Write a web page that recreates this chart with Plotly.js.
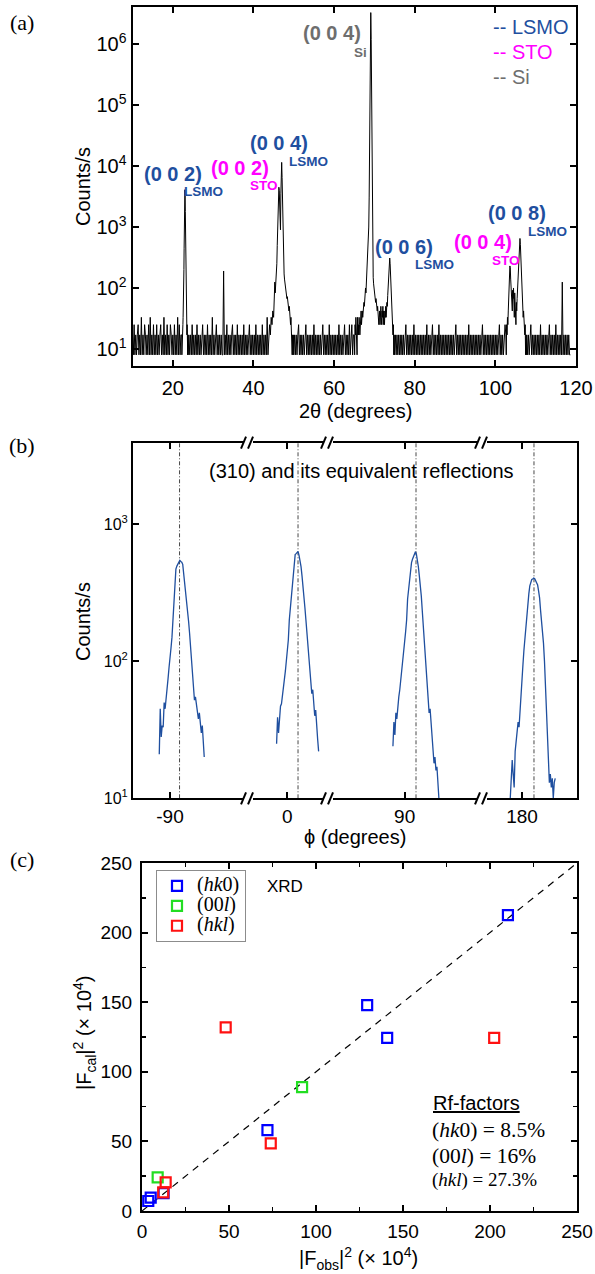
<!DOCTYPE html>
<html><head><meta charset="utf-8">
<script src="https://cdn.plot.ly/plotly-3.0.1.min.js"></script>
<style>html,body{margin:0;padding:0;background:#fff}#chart{width:595px;height:1274px}</style>
</head><body><div id="chart"></div>
<script>
// ===================== DATA =====================
// Panel (a): 2theta scan, counts/s (segments on a regular measurement grid)
const scanBg1 = [17,8,25,8,17,8,17,25,8,17, 8,33,8,17,8,25,17,8,17,8, 25,8,33,8,17,8,25,8,17,8,
  25,8,17,8,17,25,8,17,8,33, 8,17,8,25,8,17,8,25,17,8, 17,8,25,8,17,8,33,8,25,8, 17];
const scanPk002 = [17,8,17,8,25,17,25,33,42,58,100,200,450,1100,2400,3700,4100,3300,1800,800,330,150,75,50,33,25,17,25,8,17,8,17,8];
const scanBg2 = [17,8,17,8,25,8,17,8,17,8, 25,8,17,8,17,8,17,25,8,17, 8,17,8,25,8,17,8,17,8,33,
  8,17,8,17,25,8,17,8,17,8, 17,8,8,190,8,17,8,25,8,17, 8,17,8,17,25,8,17,8,17,8,
  25,8,17,8,17,8,17,8,25,8, 17,8,17,8,17,25,8,17,8,17, 8,17,8,25,8,17,8,17,8,17,
  8,25,8,17,8,17,8,33,8,17, 25,17,33,25,42];
const scanPk004 = [33,50,83,125,83,110,150,130,250,500, 1200,2200,3400,4500,4000,2200,1100,900,3500,8500,
  11500,6500,2200,800,350,200,170,140,120,100, 92,83,75,67,72,58,62,50,42,50, 33,42,25,33,17,25,8,17,8,17, 8];
const scanBg3 = [17,8,17,8,17,25,8,17,8,17, 8,17,8,17,25,8,17,8,17,8, 17,8,17,8,25,8,17,8,17,8,
  17,8,17,8,17,25,8,17,8,17, 8,17,8,25,8,17,8,17,8,17, 8,17,8,17,8,25,8,17,8,17,
  8,17,25,8,17,8,17,8,25,8, 17,25,8,17];
const scanPkSi = [17,8,25,17,33,17,25,8,33,17, 25,17,33,25,17,33,25,42,25,33, 42,33,50,42,58,50,75,67,100,83,
  117,100,150,200,300,500,1000,3000,15000,200000, 1500000,3300000,1200000,80000,5000,800,250,150,117,100,
  92,75,83,58,67,50,58,42,50,33, 42,25,33,42,25,33,50,33,25,42, 33,50,25,42,33,25,42,33,50,33,
  42,58,50,75,100,150,220,290,310,250, 160,100,67,42,33,25,17,25,8,17, 8];
const scanBg4 = [17,8,17,8,17,8,17,8,17,8, 17,8,17,25,8,17,8,17,8,17, 8,17,8,25,8,17,8,17,8,17,
  8,17,8,17,8,17,8,17,8,25, 8,17,8,17,8,17,25,8,17,8, 17,8,17,8,25,8,17,8,17,8,
  17,8,17,8,17,8,17,8,17,8, 17,8,17,8,17,25,8,17,8,17, 8,17,8,17,8,17,8,17,8,17,
  8,25,8,17,8,17,8,17,8,17, 8,17,8,17,8,17,8,17,25,8, 17,8,17,8,17,8,17,8,17,8,
  17,8,17,8,17,8,17,8,17,25, 8,17,8,17,8,17,25];
const scanPk008 = [17,8,25,17,33,25,42,58,100,160, 230,215,140,90,110,75,42,92,67,100, 50,33,83,58,42,25,58,42,67,92,
  130,200,330,480,600,650,520,330,190,110, 75,50,58,33,42,25,33,17,25,8, 17,8,17];
const scanBg5 = [8,17,8,17,25,8,17,8,17,8, 17,8,17,8,17,8,25,8,17,8, 17,8,17,8,17,8,17,25,8,17,
  8,17,8,17,8,25,8,17,8,17, 8,17,8,125,8,17,8,17,8,17, 8,17,8,8];
// [start 2theta, step, counts]
const scanSegments = [
  [10.0, 0.2, scanBg1], [22.2, 0.05, scanPk002], [24.0, 0.2, scanBg2], [45.0, 0.1, scanPk004],
  [50.2, 0.2, scanBg3], [65.0, 0.1, scanPkSi], [75.2, 0.2, scanBg4], [102.6, 0.1, scanPk008], [108.0, 0.2, scanBg5]
];

// Panel (b): phi scans of (310) reflections [start phi, step, counts]
const phiPeak1 = [21,45,28,34,33,50,45,52,64,75,90,102,125,150,205,290,390,470,495,510,530,545,535,528,510,440,375,310,265,225,195,160,130,100,78,60,52,55,48,44,38,42,33,30,34,24,20];
const phiPeak2 = [25,39,30,40,47,49,55,62,74,85,98,112,143,200,245,280,330,430,520,600,610,618,632,590,540,490,420,360,300,245,200,165,135,105,85,70,58,62,48,40,44,32,27,22];
const phiPeak3 = [24,36,29,42,38,50,55,62,75,88,100,118,140,165,200,285,340,400,450,525,555,580,610,630,605,560,490,420,360,300,235,180,140,105,80,62,50,42,45,34,28,21,18,20,16,17,14,10];
const phiPeak4 = [10,14,19,15,12,22,26,30,36,33,45,55,70,95,121,150,185,220,255,310,355,380,395,398,405,400,385,375,360,325,290,235,200,170,135,100,70,45,30,19,13,15,12,14,10,13,14];
const phiScans = [[-98.25, 0.75, phiPeak1], [-8.25, 0.75, phiPeak2], [81.0, 0.75, phiPeak3], [171.0, 0.75, phiPeak4]];
const phiPeakCentres = [-82.7, 8.2, 98.7, 189.2];
const phiTickVals = [-90, 0, 90, 180];
const phiTickText = ['-90', '0', '90', '180'];

// Panel (c): structure factors (x 10^4)
const hk0Obs = [210.3, 129.4, 140.9, 72.1, 3.6, 5.0, 12.4];
const hk0Cal = [212.5, 147.9, 124.4, 58.1, 7.2, 9.6, 12.8];
const l00Obs = [92.0, 9.0];
const l00Cal = [89.0, 24.2];
const hklObs = [48.1, 74.0, 202.4, 13.6, 12.2];
const hklCal = [131.9, 48.6, 124.4, 20.6, 13.4];
const idealLine = [0, 250];

const logTickVals = [10, 100, 1000, 10000, 100000, 1000000];
const logTickText = ['10<sup>1</sup>','10<sup>2</sup>','10<sup>3</sup>','10<sup>4</sup>','10<sup>5</sup>','10<sup>6</sup>'];

// ===================== BUILD =====================
const W = 595, H = 1274;
const SANS = 'Liberation Sans, Arial, Helvetica, sans-serif';
const SERIF = 'Liberation Serif, Times New Roman, serif';
const BLUE = '#1f4f9f', MAG = '#ff00ff', GREY = '#6e6e6e';

function expand(segs) {
  const xs = [], ys = [];
  segs.forEach(([s, st, v]) => v.forEach((c, i) => { xs.push(+(s + i * st).toFixed(3)); ys.push(c); }));
  return [xs, ys];
}
const [tthX, tthY] = expand(scanSegments);

const traces = [];
traces.push({x: tthX, y: tthY, xaxis: 'x', yaxis: 'y', mode: 'lines', line: {color: '#000', width: 1}, showlegend: false, hoverinfo: 'skip'});
phiScans.forEach(seg => {
  const [px, py] = expand([seg]);
  traces.push({x: px, y: py, xaxis: 'x2', yaxis: 'y2', mode: 'lines', line: {color: BLUE, width: 1.3}, showlegend: false});
});
traces.push({x: idealLine, y: idealLine, xaxis: 'x3', yaxis: 'y3', mode: 'lines', line: {color: '#000', width: 1.2, dash: '7px,6px'}, showlegend: false});
const sq = (c) => ({symbol: 'square-open', size: 10, color: c, line: {color: c, width: 2.2}});
traces.push({x: hk0Obs, y: hk0Cal, xaxis: 'x3', yaxis: 'y3', mode: 'markers', marker: sq('#0000ff'), name: '<span style="font-size:20px">(<i>hk</i>0)</span>'});
traces.push({x: l00Obs, y: l00Cal, xaxis: 'x3', yaxis: 'y3', mode: 'markers', marker: sq('#22dd22'), name: '<span style="font-size:20px">(00<i>l</i>)</span>'});
traces.push({x: hklObs, y: hklCal, xaxis: 'x3', yaxis: 'y3', mode: 'markers', marker: sq('#ff1111'), name: '<span style="font-size:20px">(<i>hkl</i>)</span>'});

const PX = (x) => x / W, PY = (y) => 1 - y / H;
const base = {showline: true, linecolor: '#000', linewidth: 2, mirror: 'ticks', ticks: 'inside', ticklen: 6, tickwidth: 2,
  tickcolor: '#000', showgrid: false, zeroline: false, fixedrange: true};

function ann(text, x, y, size, opts) {
  return Object.assign({text: text, x: PX(x), y: PY(y), xref: 'paper', yref: 'paper', showarrow: false,
    xanchor: 'center', yanchor: 'middle', font: {family: SANS, size: size, color: '#000'}}, opts || {});
}
const bold = (t, x, y, c, s) => ann('<b>' + t + '</b>', x, y, s, {font: {family: SANS, size: s, color: c}});

const annotations = [
  ann('(a)', 22, 23, 22, {font: {family: SERIF, size: 22, color: '#000'}}),
  ann('(b)', 22, 445, 22, {font: {family: SERIF, size: 22, color: '#000'}}),
  ann('(c)', 22, 859, 22, {font: {family: SERIF, size: 22, color: '#000'}}),
  ann('Counts/s', 83, 187, 20, {textangle: -90}),
  ann('2θ (degrees)', 355, 411, 20),
  ann('Counts/s', 83, 622, 20, {textangle: -90}),
  ann('ϕ (degrees)', 355, 837, 20),
  ann('|F<sub>cal</sub>|<sup>2</sup> (× 10<sup>4</sup>)', 84, 1033, 20, {textangle: -90}),
  ann('|F<sub>obs</sub>|<sup>2</sup> (× 10<sup>4</sup>)', 358, 1258, 20),
  // panel (a) peak labels
  bold('(0 0 2)', 173, 174, BLUE, 20), bold('LSMO', 203, 192, BLUE, 13.5),
  bold('(0 0 2)', 240, 168, MAG, 20), bold('STO', 264, 185, MAG, 13.5),
  bold('(0 0 4)', 279, 143, BLUE, 20), bold('LSMO', 308, 161, BLUE, 13.5),
  bold('(0 0 4)', 332, 33, GREY, 20), bold('Si', 360, 52, GREY, 13.5),
  bold('(0 0 6)', 404, 247, BLUE, 20), bold('LSMO', 434, 264, BLUE, 13.5),
  bold('(0 0 4)', 483, 242, MAG, 20), bold('STO', 506, 260, MAG, 13.5),
  bold('(0 0 8)', 517, 213, BLUE, 20), bold('LSMO', 547, 231, BLUE, 13.5),
  ann('-- LSMO', 491, 27, 20, {xanchor: 'left', font: {family: SANS, size: 20, color: BLUE}}),
  ann('-- STO', 491, 52, 20, {xanchor: 'left', font: {family: SANS, size: 20, color: MAG}}),
  ann('-- Si', 491, 77, 20, {xanchor: 'left', font: {family: SANS, size: 20, color: GREY}}),
  // panel (b)
  ann('(310) and its equivalent reflections', 362, 471, 20),
  // panel (c)
  ann('XRD', 285, 887, 17),
  ann('<u>Rf-factors</u>', 431, 1103, 20, {xanchor: 'left'}),
  ann('(<i>hk</i>0) = 8.5%', 430, 1130, 21.5, {xanchor: 'left', font: {family: SERIF, size: 21.5, color: '#000'}}),
  ann('(00<i>l</i>) = 16%', 430, 1156, 21.5, {xanchor: 'left', font: {family: SERIF, size: 21.5, color: '#000'}}),
  ann('(<i>hkl</i>) = 27.3%', 430, 1180, 19, {xanchor: 'left', font: {family: SERIF, size: 19, color: '#000'}})
];

// panel (b): axis breaks and dash-dot guide lines
const breakPhis = [-29.4, 31.96, 150.1];
const shapes = [];
phiPeakCentres.forEach(p => shapes.push({type: 'line', xref: 'x2', yref: 'y2 domain', x0: p, x1: p, y0: 0, y1: 1,
  line: {color: '#333', width: 0.9, dash: '4px,2px,1px,2px'}, layer: 'below'}));
const yb = PY(798.3), yt = PY(442.7);
breakPhis.forEach(b => [yb, yt].forEach(yy => {
  shapes.push({type: 'rect', xref: 'x2', yref: 'paper', xsizemode: 'pixel', ysizemode: 'pixel', xanchor: b, yanchor: yy,
    x0: -5, x1: 4, y0: -3, y1: 3, fillcolor: '#fff', line: {width: 0}, layer: 'above'});
  shapes.push({type: 'line', xref: 'x2', yref: 'paper', xsizemode: 'pixel', ysizemode: 'pixel', xanchor: b, yanchor: yy,
    x0: -8, x1: -3, y0: -6, y1: 6, line: {color: '#000', width: 2}, layer: 'above'});
  shapes.push({type: 'line', xref: 'x2', yref: 'paper', xsizemode: 'pixel', ysizemode: 'pixel', xanchor: b, yanchor: yy,
    x0: -1, x1: 4, y0: -6, y1: 6, line: {color: '#000', width: 2}, layer: 'above'});
}));

const layout = {
  width: W, height: H, margin: {l: 0, r: 0, t: 0, b: 0}, paper_bgcolor: '#fff', plot_bgcolor: '#fff',
  font: {family: SANS, color: '#000'},
  xaxis: Object.assign({}, base, {domain: [PX(132.5), PX(576)], range: [10, 120], tickvals: [20, 40, 60, 80, 100, 120],
    anchor: 'y', tickfont: {family: SANS, size: 20}, ticklabelstandoff: 3}),
  yaxis: Object.assign({}, base, {domain: [PY(366), PY(7)], type: 'log', range: [0.72, 6.61], tickvals: logTickVals,
    ticktext: logTickText, anchor: 'x', tickfont: {family: SANS, size: 20}}),
  xaxis2: Object.assign({}, base, {domain: [PX(133), PX(577)], range: [-118.4, 222.2], tickvals: phiTickVals, ticktext: phiTickText,
    anchor: 'y2', tickfont: {family: SANS, size: 19}}),
  yaxis2: Object.assign({}, base, {domain: [PY(798.3), PY(442.7)], type: 'log', range: [1, 3.595], tickvals: [10, 100, 1000],
    ticktext: ['10<sup>1</sup>', '10<sup>2</sup>', '10<sup>3</sup>'], anchor: 'x2', tickfont: {family: SANS, size: 16}}),
  xaxis3: Object.assign({}, base, {domain: [PX(142), PX(577)], range: [0, 250], dtick: 50, tick0: 0, anchor: 'y3',
    tickfont: {family: SANS, size: 19}, ticklabelstandoff: 2,
    minor: {ticks: 'inside', dtick: 25, ticklen: 4, tickwidth: 1.5, tickcolor: '#000'}}),
  yaxis3: Object.assign({}, base, {domain: [PY(1211), PY(863)], range: [0, 250], dtick: 50, tick0: 0, anchor: 'x3',
    tickfont: {family: SANS, size: 19}, ticklabelstandoff: 4,
    minor: {ticks: 'inside', dtick: 25, ticklen: 4, tickwidth: 1.5, tickcolor: '#000'}}),
  showlegend: true,
  legend: {x: PX(156), y: PY(870), xanchor: 'left', yanchor: 'top', bordercolor: '#8c8c8c', borderwidth: 1, bgcolor: '#fff',
    font: {family: SERIF, size: 13, color: '#000'}, tracegroupgap: 0, itemwidth: 30},
  annotations: annotations,
  shapes: shapes
};

Plotly.newPlot('chart', traces, layout, {displayModeBar: false, staticPlot: true});
</script>
</body></html>
